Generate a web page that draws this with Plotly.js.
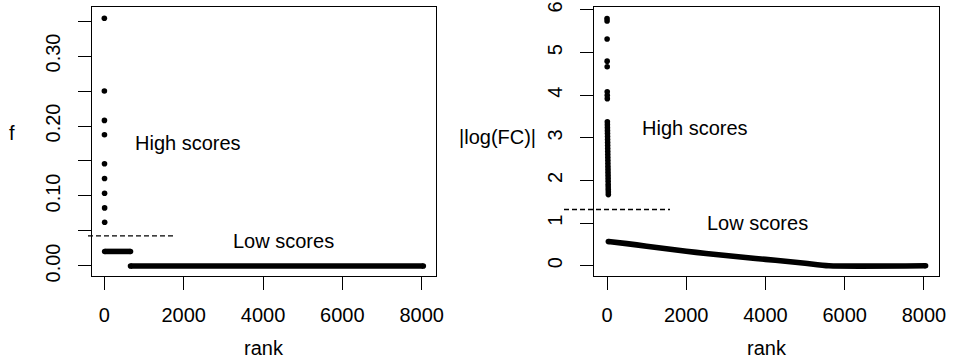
<!DOCTYPE html>
<html>
<head>
<meta charset="utf-8">
<script src="https://cdn.plot.ly/plotly-3.0.1.min.js"></script>
<style>html,body{margin:0;padding:0;background:#fff;}#chart{width:955px;height:358px;}</style>
</head>
<body>
<div id="chart"></div>
<script>
// ---- Left panel data (f vs rank) ----
var leftHighRank = [1, 2, 3, 4, 5, 6, 7, 8, 9];
var leftHighF = [0.354, 0.250, 0.208, 0.1875, 0.146, 0.125, 0.104, 0.083, 0.0625];
var leftLowRunStart = [10, 661];
var leftLowRunEnd = [660, 8040];
var leftLowRunF = [0.0208, 0.0];
var leftThreshold = 0.043;
var leftThresholdRank = [-411, 1757];

// ---- Right panel data (|log(FC)| vs rank) ----
var rightHighVal = [5.80, 5.74, 5.32, 4.80, 4.67, 4.08, 4.00, 3.92, 3.38, 3.31,
                    3.24, 3.17, 3.10, 3.03, 2.96, 2.89, 2.82, 2.75, 2.68, 2.61,
                    2.54, 2.47, 2.40, 2.33, 2.26, 2.19, 2.12, 2.05, 1.98, 1.91,
                    1.85, 1.79, 1.73, 1.67];
var rightHighRank = [1, 2, 3, 4, 5, 6, 7, 8, 9, 10,
                     11, 12, 13, 14, 15, 16, 17, 18, 19, 20,
                     21, 22, 23, 24, 25, 26, 27, 28, 29, 30,
                     31, 32, 33, 34];
var rightLowRank = [35, 500, 1000, 1500, 2000, 2500, 3000, 3500, 4000, 4500, 5000, 5600, 8040];
var rightLowVal = [0.57, 0.52, 0.46, 0.40, 0.34, 0.29, 0.24, 0.195, 0.15, 0.105, 0.06, 0.0, 0.0];
var rightThreshold = 1.32;
var rightThresholdRank = [-1085, 1590];

// ---- Axis ticks / labels ----
var xTickVals = [0, 2000, 4000, 6000, 8000];
var xTickText = ['0', '2000', '4000', '6000', '8000'];
var leftYTickVals = [0, 0.05, 0.10, 0.15, 0.20, 0.25, 0.30, 0.35];
var leftYTickText = ['0.00', '', '0.10', '', '0.20', '', '0.30', ''];
var rightYTickVals = [0, 1, 2, 3, 4, 5, 6];
var rightYTickText = ['0', '1', '2', '3', '4', '5', '6'];
var textLabels = ['High scores', 'Low scores'];
var xLabel = 'rank';
var leftYLabel = 'f';
var rightYLabel = '|log(FC)|';

var leftXRange = [-310, 8360], leftYRange = [-0.0143, 0.370];
var rightXRange = [-328, 8379], rightYRange = [-0.24, 6.07];

var dotSize = 5.6, runWidth = 5.6;
var black = '#000';

var traces = [];
traces.push({x: leftHighRank, y: leftHighF, xaxis: 'x', yaxis: 'y', mode: 'markers', type: 'scatter',
  marker: {color: black, size: dotSize}, hoverinfo: 'skip'});
for (var i = 0; i < leftLowRunStart.length; i++) {
  traces.push({x: [leftLowRunStart[i], leftLowRunEnd[i]], y: [leftLowRunF[i], leftLowRunF[i]],
    xaxis: 'x', yaxis: 'y', mode: 'lines+markers', type: 'scatter',
    line: {color: black, width: runWidth}, marker: {color: black, size: dotSize}, hoverinfo: 'skip'});
}
traces.push({x: rightHighRank, y: rightHighVal, xaxis: 'x2', yaxis: 'y2', mode: 'markers', type: 'scatter',
  marker: {color: black, size: dotSize}, hoverinfo: 'skip'});
traces.push({x: rightLowRank, y: rightLowVal, xaxis: 'x2', yaxis: 'y2', mode: 'lines', type: 'scatter',
  line: {color: black, width: runWidth, shape: 'spline', smoothing: 0.6}, hoverinfo: 'skip'});
traces.push({x: [rightLowRank[0], rightLowRank[rightLowRank.length - 1]],
  y: [rightLowVal[0], rightLowVal[rightLowVal.length - 1]], xaxis: 'x2', yaxis: 'y2', mode: 'markers',
  type: 'scatter', marker: {color: black, size: dotSize}, hoverinfo: 'skip'});

function frac(v, r) { return (v - r[0]) / (r[1] - r[0]); }

var font = {family: 'Liberation Sans, Arial, Helvetica, sans-serif', size: 20, color: '#000'};

function xAxis(dom, range, anchor) {
  return {domain: dom, range: range, anchor: anchor, tickmode: 'array', tickvals: xTickVals, ticktext: xTickText,
    ticks: 'outside', ticklen: 13, tickwidth: 1, tickcolor: black, showline: true, mirror: true,
    linecolor: black, linewidth: 1, showgrid: false, zeroline: false, ticklabelstandoff: 8,
    tickfont: font, fixedrange: true};
}
function yAxis(dom, range, anchor, vals, text) {
  return {domain: dom, range: range, anchor: anchor, tickmode: 'array', tickvals: vals, ticktext: text,
    ticks: 'outside', ticklen: 13, tickwidth: 1, tickcolor: black, showline: true, mirror: true,
    linecolor: black, linewidth: 1, showgrid: false, zeroline: false, tickangle: -90,
    ticklabelstandoff: 10, tickfont: font, fixedrange: true};
}

var yDom = [82 / 358, 351 / 358];
var layout = {
  width: 955, height: 358, margin: {l: 0, r: 0, t: 0, b: 0}, showlegend: false,
  paper_bgcolor: '#fff', plot_bgcolor: '#fff', font: font,
  xaxis: xAxis([92 / 955, 436 / 955], leftXRange, 'y'),
  yaxis: yAxis(yDom, leftYRange, 'x', leftYTickVals, leftYTickText),
  xaxis2: xAxis([594 / 955, 939 / 955], rightXRange, 'y2'),
  yaxis2: yAxis(yDom, rightYRange, 'x2', rightYTickVals, rightYTickText),
  shapes: [
    {type: 'line', xref: 'x domain', yref: 'y domain',
     x0: frac(leftThresholdRank[0], leftXRange), x1: frac(leftThresholdRank[1], leftXRange),
     y0: frac(leftThreshold, leftYRange), y1: frac(leftThreshold, leftYRange),
     line: {color: black, width: 1.3, dash: '5px,3px'}},
    {type: 'line', xref: 'x2 domain', yref: 'y2 domain',
     x0: frac(rightThresholdRank[0], rightXRange), x1: frac(rightThresholdRank[1], rightXRange),
     y0: frac(rightThreshold, rightYRange), y1: frac(rightThreshold, rightYRange),
     line: {color: black, width: 1.3, dash: '5px,3px'}}
  ],
  annotations: [
    {xref: 'x', yref: 'y', x: 2122, y: 0.176, text: textLabels[0], showarrow: false, font: font},
    {xref: 'x', yref: 'y', x: 4528, y: 0.0357, text: textLabels[1], showarrow: false, font: font},
    {xref: 'x2', yref: 'y2', x: 2221, y: 3.23, text: textLabels[0], showarrow: false, font: font},
    {xref: 'x2', yref: 'y2', x: 3786, y: 1.0, text: textLabels[1], showarrow: false, font: font},
    {xref: 'x domain', yref: 'paper', x: 0.5, y: 10 / 358, text: xLabel, showarrow: false, font: font, yanchor: 'middle'},
    {xref: 'x2 domain', yref: 'paper', x: 0.5, y: 10 / 358, text: xLabel, showarrow: false, font: font, yanchor: 'middle'},
    {xref: 'paper', yref: 'paper', x: 11.7 / 955, y: (358 - 133) / 358, text: leftYLabel, showarrow: false, font: font, xanchor: 'center'},
    {xref: 'paper', yref: 'paper', x: 538 / 955, y: (358 - 137) / 358, text: rightYLabel, showarrow: false, font: font, xanchor: 'right'}
  ]
};

Plotly.newPlot('chart', traces, layout, {staticPlot: true, displayModeBar: false});
</script>
</body>
</html>
